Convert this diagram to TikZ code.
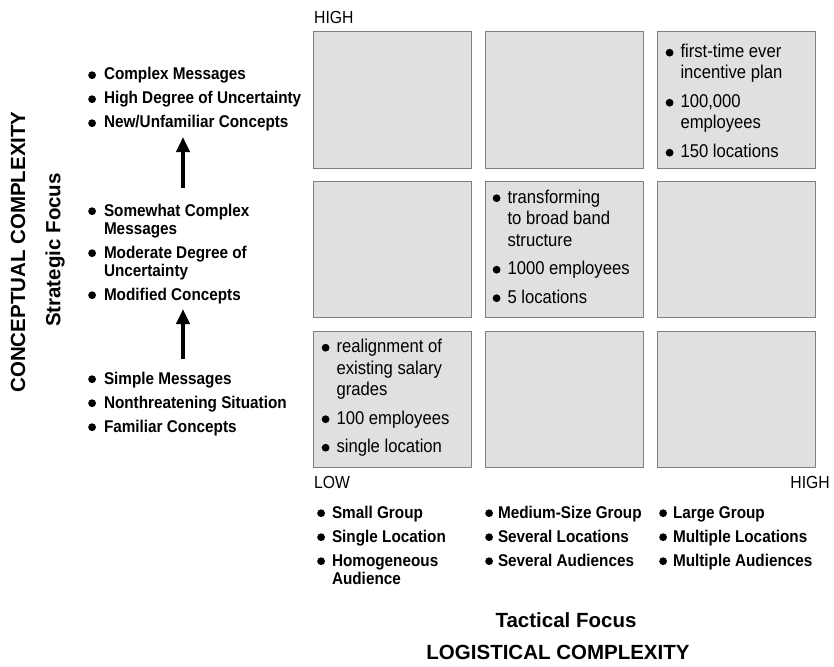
\documentclass[tikz,border=0pt]{standalone}
\usepackage{fontspec}
\setmainfont{Liberation Sans}
\newfontfamily\narrowsf[FakeStretch=0.9]{Liberation Sans}
\usetikzlibrary{arrows.meta}

\definecolor{cellfill}{HTML}{E0E0E0}
\definecolor{cellline}{HTML}{808080}

\newcommand{\bl}{\tikz[baseline=0pt]\fill (0pt,4.8pt) circle (3.9pt);}

\tikzset{
  cell/.style={draw=cellline, fill=cellfill, line width=1pt, minimum width=158, minimum height=136, inner sep=0pt},
  celltxt/.style={anchor=base west, inner sep=0pt, font=\narrowsf\fontsize{18.5}{21.5}\selectfont},
  sidetxt/.style={anchor=base west, inner sep=0pt, font=\narrowsf\bfseries\fontsize{17}{18}\selectfont},
  axistxt/.style={inner sep=0pt, font=\narrowsf\fontsize{17.5}{20}\selectfont},
  titletxt/.style={inner sep=0pt, font=\bfseries\fontsize{20.5}{24}\selectfont},
  uparrow/.style={line width=3.8pt, -{Triangle[length=15pt,width=13pt]}}
}

\begin{document}
\begin{tikzpicture}[x=1pt,y=-1pt]
            \useasboundingbox (0,0) rectangle (834,666);

            % the 3x3 grid of cells
            \foreach \r in {1,2,3}
              \foreach \c in {1,2,3}
                \node[cell] (c\r\c) at ({392+172*(\c-1)},{100+149.5*(\r-1)}) {};

            % texts in the cells
            \node[celltxt] (hightxt) at ([shift={(9,26)}]c13.north west) {\begin{tabular}[t]{@{}l@{\hspace{7pt}}l@{}}
              \bl & first-time ever\\ & incentive plan\\[7pt]
              \bl & 100,000\\ & employees\\[7pt]
              \bl & 150 locations
            \end{tabular}};
            \node[celltxt] (midtxt) at ([shift={(8,22)}]c22.north west) {\begin{tabular}[t]{@{}l@{\hspace{7pt}}l@{}}
              \bl & transforming\\ & to broad band\\ & structure\\[7pt]
              \bl & 1000 employees\\[7pt]
              \bl & 5 locations
            \end{tabular}};
            \node[celltxt] (lowtxt) at ([shift={(9,22)}]c31.north west) {\begin{tabular}[t]{@{}l@{\hspace{7pt}}l@{}}
              \bl & realignment of\\ & existing salary\\ & grades\\[7pt]
              \bl & 100 employees\\[7pt]
              \bl & single location
            \end{tabular}};

            % axis ends
            \node[axistxt, anchor=base west] (tophigh) at (314,24) {HIGH};
            \node[axistxt, anchor=base west] (low) at (314,488) {LOW};
            \node[axistxt, anchor=base east] (righthigh) at (830,488) {HIGH};

            % strategic side
            \node[sidetxt] (sidetop) at (88,80) {\begin{tabular}[t]{@{}l@{\hspace{8pt}}l@{}}
              \bl & Complex Messages\\[6pt]
              \bl & High Degree of Uncertainty\\[6pt]
              \bl & New/Unfamiliar Concepts
            \end{tabular}};
            \node[sidetxt] (sidemid) at (88,216) {\begin{tabular}[t]{@{}l@{\hspace{8pt}}l@{}}
              \bl & Somewhat Complex\\ & Messages\\[6pt]
              \bl & Moderate Degree of\\ & Uncertainty\\[6pt]
              \bl & Modified Concepts
            \end{tabular}};
            \node[sidetxt] (sidelow) at (88,384) {\begin{tabular}[t]{@{}l@{\hspace{8pt}}l@{}}
              \bl & Simple Messages\\[6pt]
              \bl & Nonthreatening Situation\\[6pt]
              \bl & Familiar Concepts
            \end{tabular}};

            \coordinate (up1a) at (183,188);
            \coordinate (up1b) at (183,137);
            \coordinate (up2a) at (183,359);
            \coordinate (up2b) at (183,309);
            \draw[uparrow] (up1a) -- (up1b);
            \draw[uparrow] (up2a) -- (up2b);

            % tactical side
            \node[sidetxt] (botleft) at (317,518) {\begin{tabular}[t]{@{}l@{\hspace{7pt}}l@{}}
              \bl & Small Group\\[6pt]
              \bl & Single Location\\[6pt]
              \bl & Homogeneous\\ & Audience
            \end{tabular}};
            \node[sidetxt] (botmid) at (485,518) {\begin{tabular}[t]{@{}l@{\hspace{5pt}}l@{}}
              \bl & Medium-Size Group\\[6pt]
              \bl & Several Locations\\[6pt]
              \bl & Several Audiences
            \end{tabular}};
            \node[sidetxt] (botright) at (659,518) {\begin{tabular}[t]{@{}l@{\hspace{6pt}}l@{}}
              \bl & Large Group\\[6pt]
              \bl & Multiple Locations\\[6pt]
              \bl & Multiple Audiences
            \end{tabular}};

            % axis titles
            \node[titletxt, rotate=90] (concept) at (18,252) {CONCEPTUAL COMPLEXITY};
            \node[titletxt, rotate=90] (strategic) at (55,250) {Strategic Focus};
            \node[titletxt] (tactical) at (566,620) {Tactical Focus};
            \node[titletxt] (logistic) at (558,652) {LOGISTICAL COMPLEXITY};

        \end{tikzpicture}
\end{document}
